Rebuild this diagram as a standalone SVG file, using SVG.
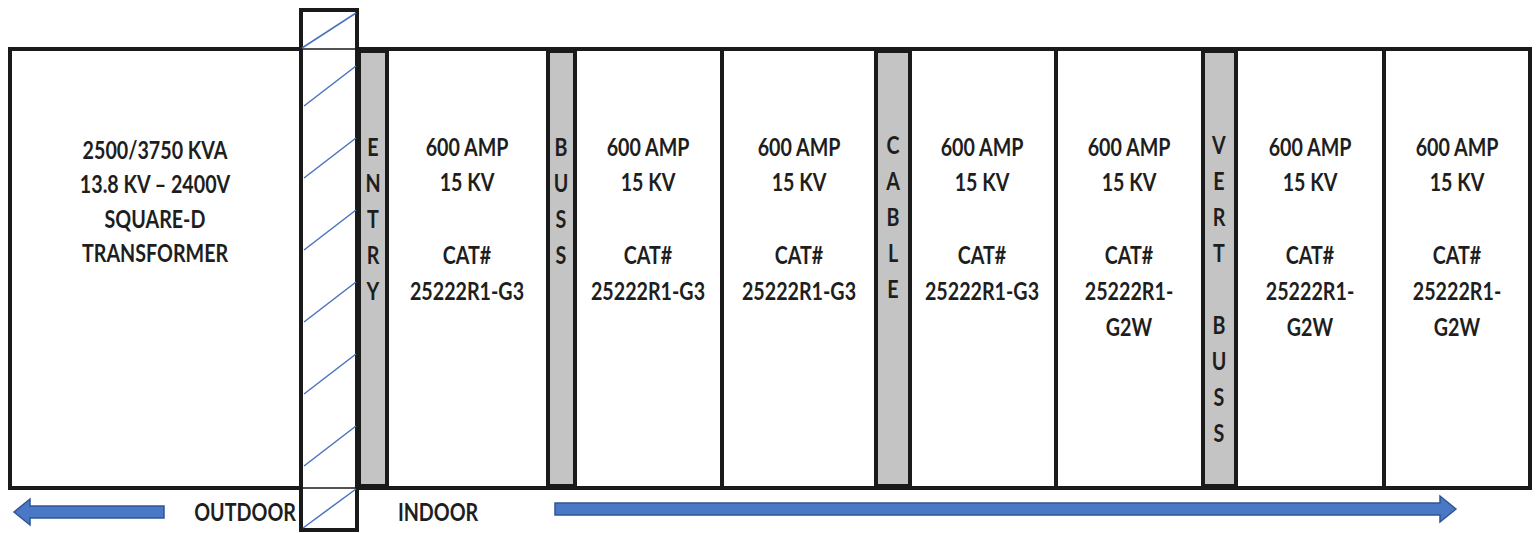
<svg xmlns="http://www.w3.org/2000/svg" width="1537" height="533" viewBox="0 0 1537 533">
<style>
.t{font-family:Lato,"Open Sans","Liberation Sans",sans-serif;font-weight:bold;font-size:24px;fill:#1e1e1e;text-anchor:middle;transform-box:fill-box;transform-origin:center;transform:scaleX(0.82)}
.frame{fill:#fff;stroke:#1a1a1a;stroke-width:4}
.div{stroke:#1a1a1a;stroke-width:4}
.strip{fill:#c4c4c4;stroke:#1a1a1a;stroke-width:4}
.hatch{stroke:#4a72c0;stroke-width:1.5}
.arrow{fill:#4a78c4;stroke:#2f5597;stroke-width:1.5}
</style>
<rect width="1537" height="533" fill="#fff"/>
<g id="switchgear">
<rect class="frame" x="10" y="49" width="1520" height="439"/>
</g>
<g id="transformer">
<text class="t" x="155" y="159">2500/3750 KVA</text>
<text class="t" x="155" y="193">13.8 KV – 2400V</text>
<text class="t" x="155" y="228">SQUARE-D</text>
<text class="t" x="155" y="262">TRANSFORMER</text>
</g>
<g id="wall">
<rect x="301" y="10" width="56" height="520" fill="#fff" stroke="#1a1a1a" stroke-width="4"/>
<line x1="301" y1="49" x2="357" y2="49" stroke="#1a1a1a" stroke-width="1.5"/>
<line x1="301" y1="488" x2="357" y2="488" stroke="#1a1a1a" stroke-width="1.5"/>
<line class="hatch" x1="302" y1="48" x2="356" y2="13"/>
<line class="hatch" x1="304" y1="106" x2="356" y2="66"/>
<line class="hatch" x1="304" y1="178" x2="356" y2="138"/>
<line class="hatch" x1="304" y1="250" x2="356" y2="210"/>
<line class="hatch" x1="304" y1="322" x2="356" y2="282"/>
<line class="hatch" x1="304" y1="394" x2="356" y2="354"/>
<line class="hatch" x1="304" y1="466" x2="356" y2="426"/>
<line class="hatch" x1="303" y1="528" x2="356" y2="489"/>
</g>
<g id="entry">
<rect class="strip" x="359" y="51" width="28" height="435"/>
<text class="t" x="373" y="156">E</text>
<text class="t" x="373" y="192">N</text>
<text class="t" x="373" y="228">T</text>
<text class="t" x="373" y="264">R</text>
<text class="t" x="373" y="300">Y</text>
</g>
<g id="cell1">
<text class="t" x="467" y="156">600 AMP</text>
<text class="t" x="467" y="191">15 KV</text>
<text class="t" x="467" y="264">CAT#</text>
<text class="t" x="467" y="300">25222R1-G3</text>
</g>
<g id="buss">
<rect class="strip" x="548" y="51" width="27" height="435"/>
<text class="t" x="561" y="156">B</text>
<text class="t" x="561" y="192">U</text>
<text class="t" x="561" y="228">S</text>
<text class="t" x="561" y="264">S</text>
</g>
<g id="cell2">
<text class="t" x="648" y="156">600 AMP</text>
<text class="t" x="648" y="191">15 KV</text>
<text class="t" x="648" y="264">CAT#</text>
<text class="t" x="648" y="300">25222R1-G3</text>
</g>
<g id="cell3">
<line class="div" x1="722" y1="49" x2="722" y2="488"/>
<text class="t" x="799" y="156">600 AMP</text>
<text class="t" x="799" y="191">15 KV</text>
<text class="t" x="799" y="264">CAT#</text>
<text class="t" x="799" y="300">25222R1-G3</text>
</g>
<g id="cable">
<rect class="strip" x="876" y="51" width="34" height="435"/>
<text class="t" x="893" y="154">C</text>
<text class="t" x="893" y="190">A</text>
<text class="t" x="893" y="226">B</text>
<text class="t" x="893" y="262">L</text>
<text class="t" x="893" y="298">E</text>
</g>
<g id="cell4">
<text class="t" x="982" y="156">600 AMP</text>
<text class="t" x="982" y="191">15 KV</text>
<text class="t" x="982" y="264">CAT#</text>
<text class="t" x="982" y="300">25222R1-G3</text>
</g>
<g id="cell5">
<line class="div" x1="1056" y1="49" x2="1056" y2="488"/>
<text class="t" x="1129" y="156">600 AMP</text>
<text class="t" x="1129" y="191">15 KV</text>
<text class="t" x="1129" y="264">CAT#</text>
<text class="t" x="1129" y="300">25222R1-</text>
<text class="t" x="1129" y="336">G2W</text>
</g>
<g id="vertbuss">
<rect class="strip" x="1203" y="51" width="33" height="435"/>
<text class="t" x="1219" y="154">V</text>
<text class="t" x="1219" y="190">E</text>
<text class="t" x="1219" y="226">R</text>
<text class="t" x="1219" y="262">T</text>
<text class="t" x="1219" y="334">B</text>
<text class="t" x="1219" y="370">U</text>
<text class="t" x="1219" y="406">S</text>
<text class="t" x="1219" y="442">S</text>
</g>
<g id="cell6">
<text class="t" x="1310" y="156">600 AMP</text>
<text class="t" x="1310" y="191">15 KV</text>
<text class="t" x="1310" y="264">CAT#</text>
<text class="t" x="1310" y="300">25222R1-</text>
<text class="t" x="1310" y="336">G2W</text>
</g>
<g id="cell7">
<line class="div" x1="1384" y1="49" x2="1384" y2="488"/>
<text class="t" x="1457" y="156">600 AMP</text>
<text class="t" x="1457" y="191">15 KV</text>
<text class="t" x="1457" y="264">CAT#</text>
<text class="t" x="1457" y="300">25222R1-</text>
<text class="t" x="1457" y="336">G2W</text>
</g>
<g id="labels">
<text class="t" x="245" y="521">OUTDOOR</text>
<text class="t" x="438" y="521">INDOOR</text>
</g>
<g id="connectors">
<polygon class="arrow" points="14,512 30,499 30,506 164,506 164,518 30,518 30,525"/>
<polygon class="arrow" points="1456,509 1440,496 1440,503 555,503 555,515 1440,515 1440,522"/>
</g>
</svg>
